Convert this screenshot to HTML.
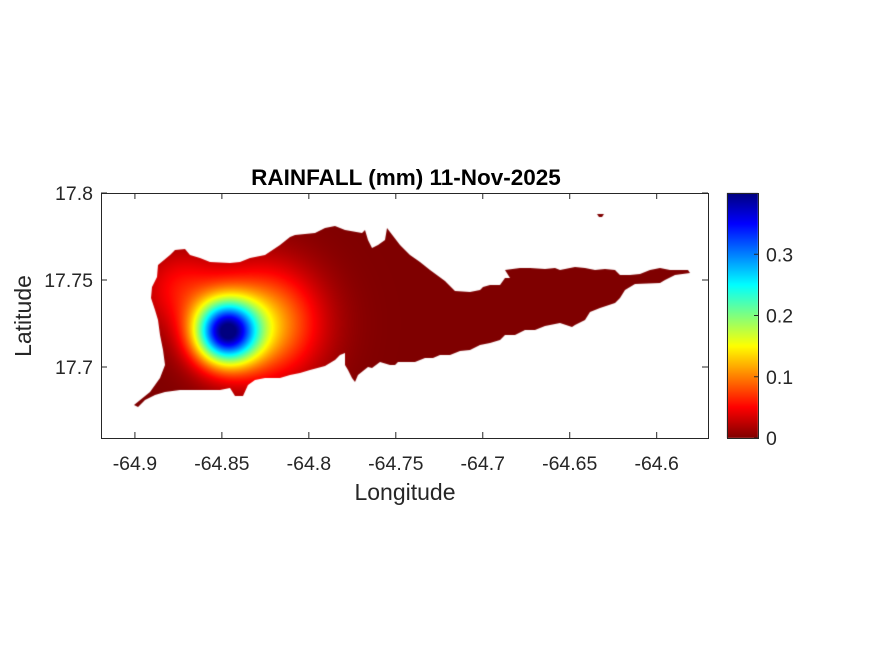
<!DOCTYPE html>
<html><head><meta charset="utf-8"><style>
html,body{margin:0;padding:0;background:#fff;width:875px;height:656px;overflow:hidden;font-family:"Liberation Sans",Arial,sans-serif}
#wrap{position:relative;width:875px;height:656px}
canvas,svg{position:absolute;left:0;top:0}
</style></head><body>
<div id="wrap">
<canvas id="map" width="875" height="656"></canvas>
<svg id="ov" width="875" height="656"></svg>
</div>
<script>
// data
const stationLon=[-64.8477,-64.8260,-64.8741];
const stationLat=[17.7201,17.7250,17.7454];
const stationRain=[0.34,0.12,0.05];
const stationSigma=[0.0125,0.0220,0.0160];
const xTicks=[-64.9,-64.85,-64.8,-64.75,-64.7,-64.65,-64.6];
const xTickLabels=["-64.9","-64.85","-64.8","-64.75","-64.7","-64.65","-64.6"];
const yTicks=[17.7,17.75,17.8];
const yTickLabels=["17.7","17.75","17.8"];
const cTicks=[0,0.1,0.2,0.3];
const cTickLabels=["0","0.1","0.2","0.3"];

const L=101,R=708,T=193,B=438;
const xMin=-64.9195,xMax=-64.5705,yMin=17.6592,yMax=17.8;
const X=v=>L+(v-xMin)/(xMax-xMin)*(R-L);
const Y=v=>B-(v-yMin)/(yMax-yMin)*(B-T);
const CB={l:727,r:758,t:193,b:438,max:0.4};
const CY=v=>CB.b-v/CB.max*(CB.b-CB.t);

function jet(t){t=Math.max(0,Math.min(1,t));
 const f=(a)=>Math.max(0,Math.min(1,1.5-Math.abs(4*t-a)));
 return [f(3)*255,f(2)*255,f(1)*255];}
const cmap=v=>jet(1-v/CB.max);

const island="M134,405 L150,392 160,378 165,365 163,350 160,335 158,320 155,310 151,298 152,287 157,277 158,265 170,255 175,250 185,249 190,255 200,258 210,262 230,263 240,262 250,258 265,255 280,245 290,237 295,235 315,233 325,228 335,226 345,230 362,233 365,230 368,240 372,248 378,245 385,240 387,228 390,232 400,245 410,255 420,262 430,270 445,281 455,291 470,292 480,290 483,287 490,285 500,285 505,278 510,278 505,270 520,268 530,268 545,269 555,268 560,270 575,267 585,268 595,270 605,269 615,270 620,275 630,275 640,274 650,270 660,268 670,270 688,270 690,273 675,275 665,280 660,283 635,284 625,290 620,298 615,303 600,308 590,312 585,320 575,325 572,327 560,323 545,326 535,330 525,330 515,335 505,335 500,340 490,343 480,345 470,350 460,351 450,355 440,355 433,358 425,358 415,362 405,362 398,362 395,365 390,365 380,362 372,368 368,367 358,375 355,382 352,378 348,370 345,365 345,353 340,355 335,360 325,366 310,370 300,373 290,375 280,378 265,378 255,380 248,385 243,396 235,396 230,388 220,390 210,390 195,390 180,390 165,392 155,395 145,400 138,407 Z M597,214 L604,214 602,217 599,217 Z";

const cv=document.getElementById('map');const ctx=cv.getContext('2d');
ctx.save();ctx.clip(new Path2D(island));
const lonOf=x=>xMin+(x-L)/(R-L)*(xMax-xMin), latOf=y=>yMin+(B-y)/(B-T)*(yMax-yMin);
for(let y=T;y<B;y+=1)for(let x=L;x<R;x+=1){
 const lo=lonOf(x+0.5),la=latOf(y+0.5);let v=0;
 for(let i=0;i<stationRain.length;i++){const d2=(lo-stationLon[i])**2+(la-stationLat[i])**2;v+=stationRain[i]*Math.exp(-d2/(2*stationSigma[i]**2));}
 const c=cmap(v);ctx.fillStyle=`rgb(${c[0]|0},${c[1]|0},${c[2]|0})`;ctx.fillRect(x,y,1,1);}
ctx.restore();
// colorbar
for(let y=CB.t;y<CB.b;y++){const v=(CB.b-y-0.5)/(CB.b-CB.t)*CB.max;const c=cmap(v);ctx.fillStyle=`rgb(${c[0]|0},${c[1]|0},${c[2]|0})`;ctx.fillRect(CB.l,y,CB.r-CB.l,1);}

const NS='http://www.w3.org/2000/svg',svg=document.getElementById('ov');
function el(t,a,txt){const e=document.createElementNS(NS,t);for(const k in a)e.setAttribute(k,a[k]);if(txt!=null)e.textContent=txt;svg.appendChild(e);return e;}
let e;
e=el('rect',{x:L+0.5,y:T+0.5,width:R-L,height:B-T,fill:'none',stroke:'#262626','stroke-width':1});


xTicks.forEach((v,i)=>{const x=X(v);
 el('line',{x1:x,y1:B,x2:x,y2:B-6,stroke:'#262626'});
 el('line',{x1:x,y1:T,x2:x,y2:T+6,stroke:'#262626'});
 e=el('text',{x:x,y:B+32,'text-anchor':'middle','font-size':'19.5',fill:'#262626'},xTickLabels[i]);
 
 });
yTicks.forEach((v,i)=>{const y=Y(v);
 el('line',{x1:L,y1:y,x2:L+6,y2:y,stroke:'#262626'});
 el('line',{x1:R,y1:y,x2:R-6,y2:y,stroke:'#262626'});
 e=el('text',{x:L-8,y:y+7,'text-anchor':'end','font-size':'19.5',fill:'#262626'},yTickLabels[i]);
 
 });
e=el('rect',{x:CB.l+0.5,y:CB.t+0.5,width:CB.r-CB.l,height:CB.b-CB.t,fill:'none',stroke:'#262626'});


cTicks.forEach((v,i)=>{const y=CY(v);
 el('line',{x1:CB.r-4,y1:y,x2:CB.r,y2:y,stroke:'#262626'});
 e=el('text',{x:CB.r+8,y:y+7,'font-size':'19.5',fill:'#262626'},cTickLabels[i]);
 
 });
e=el('text',{x:406,y:185,'text-anchor':'middle','font-size':'22.5','font-weight':'bold',fill:'#000'},'RAINFALL (mm) 11-Nov-2025');


e=el('text',{x:405,y:500,'text-anchor':'middle','font-size':'23',fill:'#262626'},'Longitude');


e=el('text',{x:0,y:0,'text-anchor':'middle','font-size':'23',fill:'#262626',transform:'translate(31,316) rotate(-90)'},'Latitude');


</script>
</body></html>
